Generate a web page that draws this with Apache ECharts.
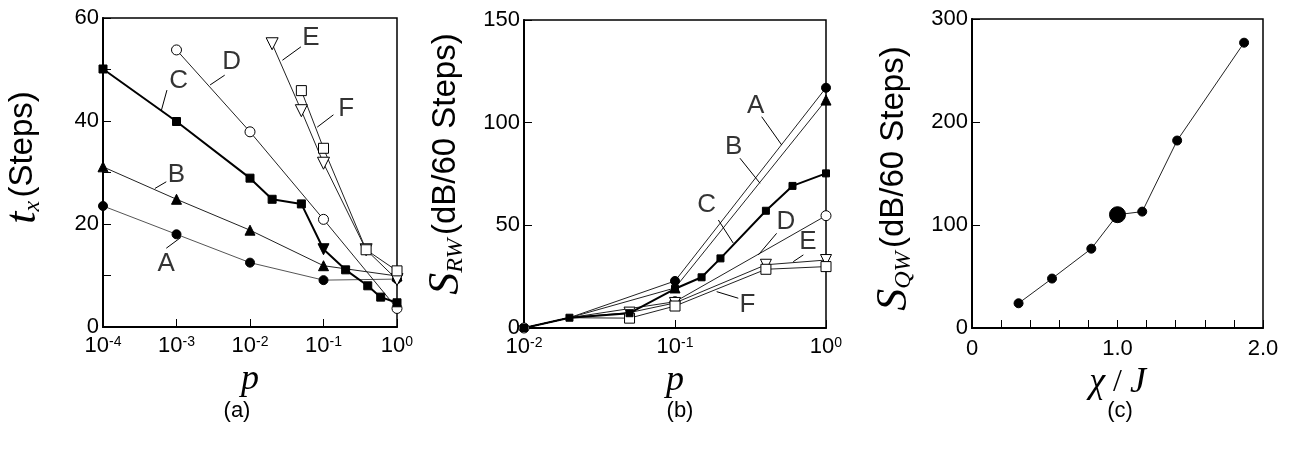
<!DOCTYPE html>
<html>
<head>
<meta charset="utf-8">
<script src="https://cdn.jsdelivr.net/npm/echarts@6/dist/echarts.min.js"></script>
<style>html,body{margin:0;padding:0;background:#fff;}#c{width:1293px;height:457px;}</style>
</head>
<body>
<div id="c"></div>
<script>
// ---------- Panel (a): t_x vs p ----------
const aA = [[1e-4,23.5],[1e-3,18.0],[1e-2,12.5],[0.1,9.1],[1,9.3]];
const aB = [[1e-4,31.1],[1e-3,24.8],[1e-2,18.8],[0.1,11.9],[1,9.9]];
const aC = [[1e-4,50.1],[1e-3,39.9],[1e-2,28.9],[0.02,24.8],[0.05,23.9],[0.1,15.1],[0.2,11.1],[0.4,8.0],[0.6,5.8],[1,4.7]];
const aD = [[1e-3,53.8],[1e-2,37.9],[0.1,20.9],[1,3.6]];
const aE = [[0.02,55.0],[0.05,42.0],[0.1,31.8],[0.38,15.0],[1,9.2]];
const aF = [[0.05,45.9],[0.1,34.7],[0.38,15.0],[1,10.9]];
const aTicksY = [0, 20, 40, 60];

// ---------- Panel (b): S_RW vs p ----------
const bA = [[0.01,0],[0.02,5],[0.1,22.9],[1,117]];
const bB = [[0.01,0],[0.02,5],[0.1,19.5],[1,111]];
const bC = [[0.01,0],[0.02,5],[0.05,7.2],[0.1,19.1],[0.15,24.7],[0.2,33.9],[0.4,57.1],[0.6,69.2],[1,75.3]];
const bD = [[0.01,0],[0.02,5],[0.1,12.8],[1,54.7]];
const bE = [[0.01,0],[0.02,5],[0.05,7.5],[0.1,12.2],[0.4,30.8],[1,33.1]];
const bF = [[0.01,0],[0.02,5],[0.05,4.8],[0.1,10.7],[0.4,28.6],[1,29.9]];

// ---------- Panel (c): S_QW vs chi/J ----------
const cX = [0.32,0.55,0.82,1.0,1.17,1.41,1.87];
const cY = [24,48,77,110,113,182,277];
const cBigIndex = 3;

// annotation letters: [label x, label y, leader start x, y, leader end x, y] (data coords)
const annA = {
  A:[10**-3.14,12.2, 10**-3.139,15.3, 10**-2.94,17.4],
  B:[10**-3.0,29.6, 10**-3.139,28.2, 10**-3.294,26.9],
  C:[10**-2.97,47.8, 10**-3.13,46.0, 10**-3.205,42.1],
  D:[10**-2.25,51.5, 10**-2.344,48.9, 10**-2.543,47.0],
  E:[10**-1.17,56.1, 10**-1.307,54.4, 10**-1.559,51.8],
  F:[10**-0.69,42.4, 10**-0.865,41.2, 10**-1.086,38.8]
};
const annB = {
  A:[10**-0.465,108.1, 10**-0.426,102.9, 10**-0.293,89.1],
  B:[10**-0.612,88.3, 10**-0.570,82.7, 10**-0.437,70.5],
  C:[10**-0.79,60.2, 10**-0.713,52.6, 10**-0.614,41.3],
  D:[10**-0.265,51.8, 10**-0.327,46.1, 10**-0.448,35.6],
  E:[10**-0.12,42.0, 10**-0.150,35.6, 10**-0.217,32.3],
  F:[10**-0.52,11.2, 10**-0.581,14.5, 10**-0.724,17.7]
};

const SANS = 'Liberation Sans, Arial, sans-serif';
const SERIF = 'Liberation Serif, Times New Roman, serif';
const chart = echarts.init(document.getElementById('c'), null, {renderer:'canvas'});

const supRich = {
  b:{fontFamily:SANS,fontSize:22,color:'#000'},
  sup:{fontFamily:SANS,fontSize:14,color:'#000',verticalAlign:'top',padding:[0,0,8,0]}
};
function logLabel(v){
  const e = Math.round(Math.log10(v));
  return '{b|10}{sup|' + e + '}';
}

const nameRich = {
  t:{fontFamily:SERIF,fontStyle:'italic',fontSize:44,color:'#000'},
  sub:{fontFamily:SERIF,fontStyle:'italic',fontSize:24,color:'#000',verticalAlign:'bottom',padding:[18,0,0,0]},
  n:{fontFamily:SANS,fontSize:33,color:'#000'}
};
const xNameStyle = {fontFamily:SERIF,fontStyle:'italic',fontSize:36,color:'#000'};

function baseX(grid, extra){
  return Object.assign({
    gridIndex:grid,
    axisLine:{show:true,onZero:false,lineStyle:{color:'#000',width:2}},
    axisTick:{show:true,inside:true,length:8,lineStyle:{color:'#000',width:1}},
    splitLine:{show:false},
    nameLocation:'middle',
    nameTextStyle:xNameStyle
  }, extra);
}
function baseY(grid, extra){
  return Object.assign({
    gridIndex:grid,type:'value',
    axisLine:{show:true,onZero:false,lineStyle:{color:'#000',width:2}},
    axisTick:{show:true,inside:true,length:8,lineStyle:{color:'#000',width:1}},
    splitLine:{show:false},
    nameLocation:'middle',nameRotate:90
  }, extra);
}

const filled = {color:'#000',borderColor:'#000',borderWidth:1};
const open = {color:'#fff',borderColor:'#000',borderWidth:1};
function mk(data, xi, name, sym, size, style, lw, lc, rot, special){
  return {
    type:'line', name:name, xAxisIndex:xi, yAxisIndex:xi,
    data:data.map((p,i)=>{
      const it = {value:p};
      if (special && special[i]) Object.assign(it, special[i]);
      return it;
    }),
    symbol:sym, symbolSize:size, symbolRotate:rot||0, showSymbol:true,
    itemStyle:style, lineStyle:{color:lc,width:lw},
    z: 3, animation:false
  };
}
const noSym = {symbol:'none'};

function annSeries(ann, xi){
  const labels = Object.keys(ann).map(k=>({value:[ann[k][0],ann[k][1]],name:k}));
  const lines = Object.keys(ann).map(k=>[{coord:[ann[k][2],ann[k][3]]},{coord:[ann[k][4],ann[k][5]]}]);
  return {
    type:'scatter', xAxisIndex:xi, yAxisIndex:xi, data:labels, symbolSize:1,
    itemStyle:{color:'rgba(0,0,0,0)'},
    label:{show:true,position:'inside',formatter:p=>p.name,fontFamily:SANS,fontSize:26,color:'#000'},
    markLine:{silent:true,symbol:['none','circle'],symbolSize:[0,3],
      lineStyle:{color:'#000',width:1,type:'solid'},label:{show:false},data:lines,animation:false},
    z:5, animation:false
  };
}

const option = {
  backgroundColor:'#fff',
  animation:false,
  grid:[
    {left:95, top:18, width:302, height:309, show:true, borderColor:'#000', borderWidth:1.5, backgroundColor:'transparent'},
    {left:524, top:20, width:302, height:308, show:true, borderColor:'#000', borderWidth:1.5, backgroundColor:'transparent'},
    {left:972, top:19, width:291, height:309, show:true, borderColor:'#000', borderWidth:1.5, backgroundColor:'transparent'}
  ],
  xAxis:[
    baseX(0,{type:'log',logBase:10,min:1e-4,max:1,name:'p',nameGap:30,
      axisLabel:{formatter:logLabel,rich:supRich,margin:8}}),
    baseX(1,{type:'log',logBase:10,min:0.01,max:1,name:'p',nameGap:30,
      axisLabel:{formatter:logLabel,rich:supRich,margin:8}}),
    baseX(2,{type:'value',min:0,max:2,interval:0.2,
      name:'{i|χ}{s| / }{i|J}',nameGap:30,
      nameTextStyle:{rich:{i:xNameStyle,s:{fontFamily:SERIF,fontSize:32,color:'#000'}}},
      axisLabel:{fontFamily:SANS,fontSize:22,color:'#000',margin:10,showMinLabel:true,showMaxLabel:true,
        formatter:v=>{ if(Math.abs(v)<1e-9) return '0'; if(Math.abs(v-1)<1e-9) return '1.0'; if(Math.abs(v-2)<1e-9) return '2.0'; return ''; }}})
  ],
  yAxis:[
    baseY(0,{min:0,max:60,interval:10,name:'{t|t}{sub|x} {n|(Steps)}',nameGap:58,
      nameTextStyle:{rich:nameRich,padding:[0,0,0,30]},
      axisLabel:{fontFamily:SANS,fontSize:22,color:'#000',margin:4,
        formatter:v=>aTicksY.indexOf(v)>=0?String(v):''}}),
    baseY(1,{min:0,max:150,interval:50,name:'{t|S}{sub|RW} {n|(dB/60 Steps)}',nameGap:56,
      nameTextStyle:{rich:nameRich,padding:[0,0,0,20]},
      axisLabel:{fontFamily:SANS,fontSize:22,color:'#000',margin:4}}),
    baseY(2,{min:0,max:300,interval:100,name:'{t|S}{sub|QW} {n|(dB/60 Steps)}',nameGap:56,
      nameTextStyle:{rich:nameRich,padding:[0,10,0,0]},
      axisLabel:{fontFamily:SANS,fontSize:22,color:'#000',margin:4}})
  ],
  series:[
    // panel (a)
    mk(aA,0,'A','circle',9,filled,1,'#555'),
    mk(aB,0,'B','triangle',10,filled,1,'#222'),
    mk(aD,0,'D','circle',10,open,1,'#222'),
    mk(aE,0,'E','triangle',12,open,1,'#222',180),
    mk(aF,0,'F','rect',10,open,1,'#222'),
    mk(aC,0,'C','rect',8,filled,2,'#000',0,{5:{symbol:'triangle',symbolRotate:180,symbolSize:11}}),
    annSeries(annA,0),
    // panel (b)
    mk(bA,1,'A','circle',9,filled,1,'#222',0,{1:noSym}),
    mk(bB,1,'B','triangle',10,filled,1,'#222',0,{0:noSym,1:noSym}),
    mk(bD,1,'D','circle',10,open,1,'#222',0,{1:noSym}),
    mk(bE,1,'E','triangle',11,open,1,'#222',180,{0:noSym,1:noSym}),
    mk(bF,1,'F','rect',10,open,1,'#222',0,{0:noSym,1:noSym}),
    mk(bC,1,'C','rect',7,filled,2,'#000'),
    annSeries(annB,1),
    // panel (c)
    {type:'line',xAxisIndex:2,yAxisIndex:2,
      data:cX.map((x,i)=>({value:[x,cY[i]],symbolSize:i===cBigIndex?16:9})),
      symbol:'circle',itemStyle:filled,lineStyle:{color:'#222',width:1},animation:false}
  ],
  graphic:[
    {type:'text',x:237,y:400,style:{text:'(a)',font:'22px '+SANS,fill:'#000',textAlign:'center'}},
    {type:'text',x:680,y:400,style:{text:'(b)',font:'22px '+SANS,fill:'#000',textAlign:'center'}},
    {type:'text',x:1120,y:400,style:{text:'(c)',font:'22px '+SANS,fill:'#000',textAlign:'center'}}
  ]
};
chart.setOption(option);
</script>
</body>
</html>
